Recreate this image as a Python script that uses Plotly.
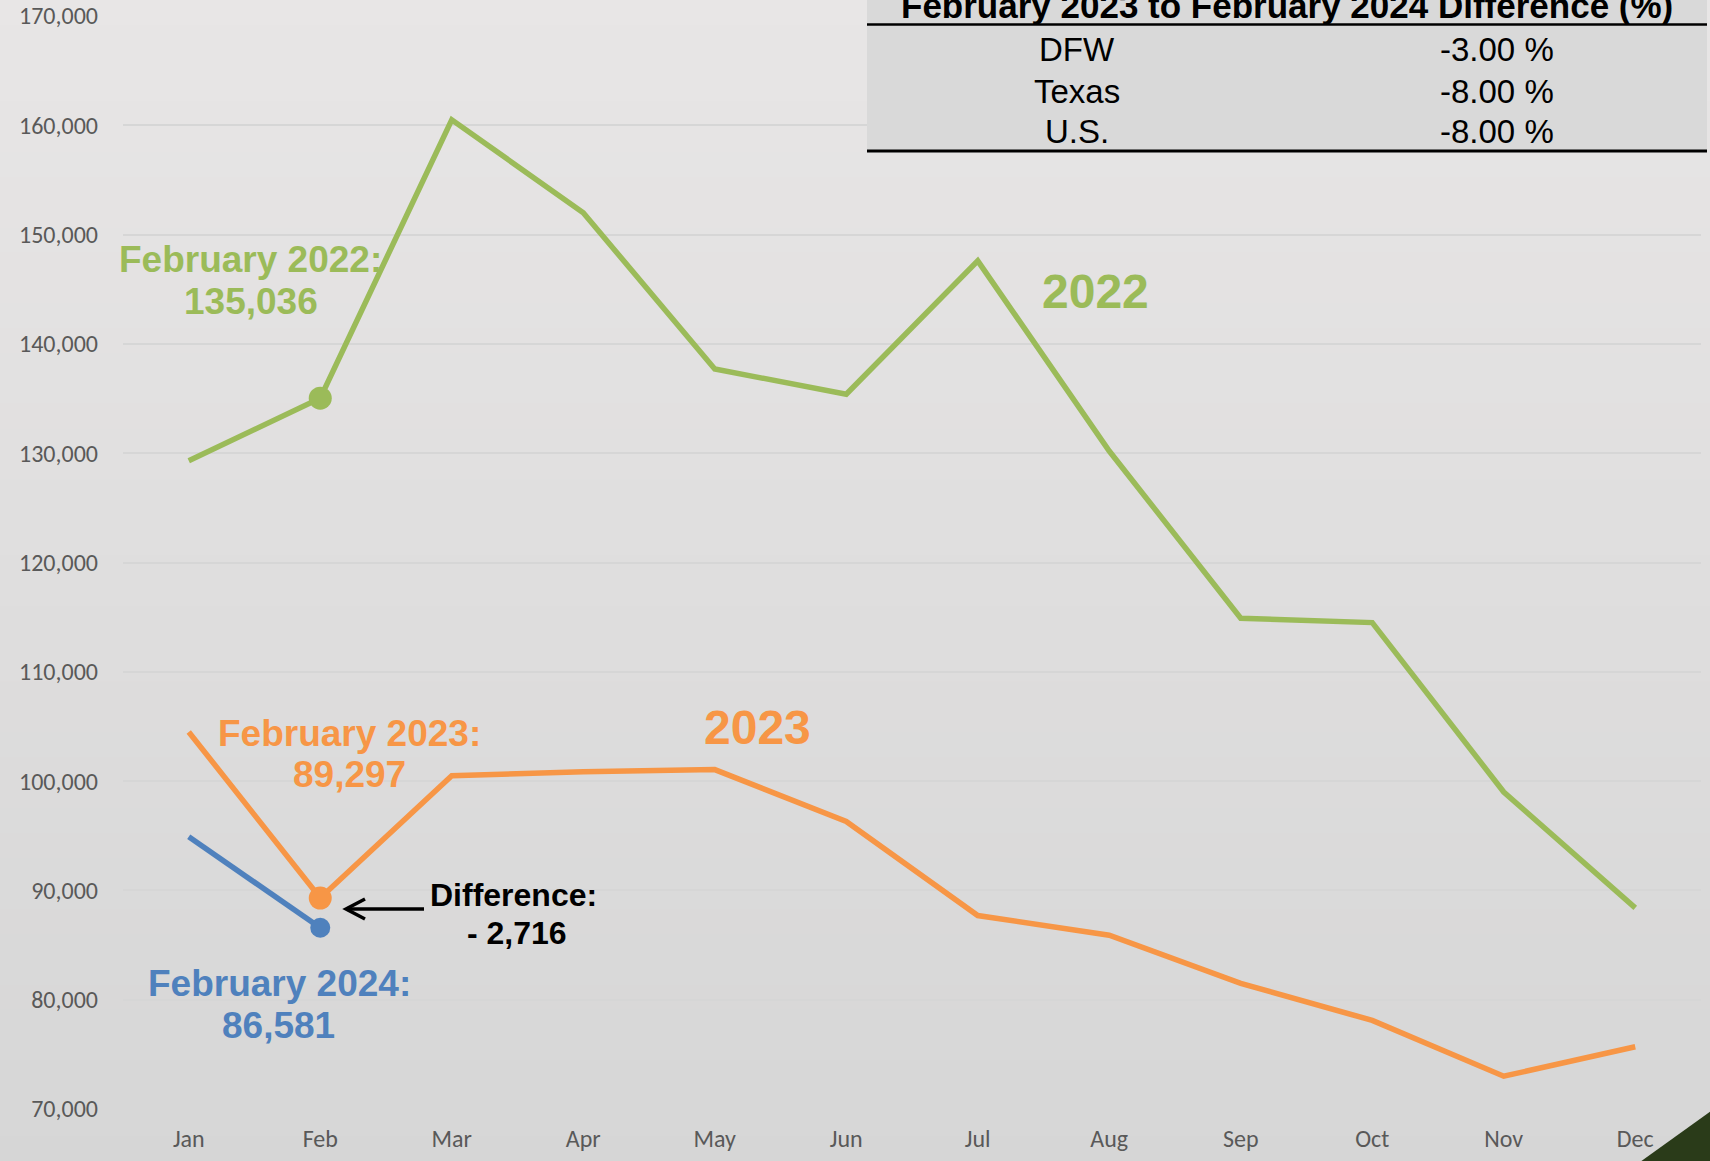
import plotly.graph_objects as go

# ---------------- data ----------------
months = ["Jan", "Feb", "Mar", "Apr", "May", "Jun", "Jul", "Aug", "Sep", "Oct", "Nov", "Dec"]
sales_2022 = [129300, 135036, 160500, 152000, 137700, 135400, 147600, 130200, 114900, 114500, 99000, 88400]
sales_2023 = [104500, 89297, 100500, 100850, 101050, 96300, 87700, 85900, 81500, 78100, 73000, 75700]
sales_2024 = [94900, 86581]
y_ticks = [70000, 80000, 90000, 100000, 110000, 120000, 130000, 140000, 150000, 160000, 170000]

table_header = "February 2023 to February 2024 Difference (%)"
table_regions = ["DFW", "Texas", "U.S."]
table_values = ["-3.00 %", "-8.00 %", "-8.00 %"]

GREEN = "#9BBB59"
ORANGE = "#F79646"
BLUE = "#4F81BD"

W, H = 1710, 1161
L, R, T, B = 123, 9, 16, 52
PW = W - L - R
PH = H - T - B


def px(x):
    return (x - L) / PW


def py(y):
    return (H - B - y) / PH


fig = go.Figure()

fig.add_trace(go.Scatter(x=months, y=sales_2022, mode="lines",
                         line=dict(color=GREEN, width=5.5), hoverinfo="skip"))
fig.add_trace(go.Scatter(x=months, y=sales_2023, mode="lines",
                         line=dict(color=ORANGE, width=5.5), hoverinfo="skip"))
fig.add_trace(go.Scatter(x=months[:len(sales_2024)], y=sales_2024, mode="lines",
                         line=dict(color=BLUE, width=5.5), hoverinfo="skip"))
# highlighted February points
fig.add_trace(go.Scatter(x=[months[1]], y=[sales_2022[1]], mode="markers",
                         marker=dict(color=GREEN, size=23), hoverinfo="skip"))
fig.add_trace(go.Scatter(x=[months[1]], y=[sales_2023[1]], mode="markers",
                         marker=dict(color=ORANGE, size=23), hoverinfo="skip"))
fig.add_trace(go.Scatter(x=[months[1]], y=[sales_2024[1]], mode="markers",
                         marker=dict(color=BLUE, size=20), hoverinfo="skip"))

shapes = []
# background vertical gradient
n = 46
top_c = (232, 230, 230)
bot_c = (214, 214, 214)
for i in range(n):
    t = (i + 0.5) / n
    c = tuple(round(top_c[k] + (bot_c[k] - top_c[k]) * t) for k in range(3))
    y0 = i * H / n
    y1 = (i + 1) * H / n + 1
    shapes.append(dict(type="rect", xref="paper", yref="paper",
                       x0=px(0), x1=px(W), y0=py(y1), y1=py(y0),
                       fillcolor="rgb(%d,%d,%d)" % c, line=dict(width=0), layer="below"))

# table background and rules
shapes.append(dict(type="rect", xref="paper", yref="paper",
                   x0=px(867), x1=px(1707), y0=py(151), y1=py(-5),
                   fillcolor="#d9d9d9", line=dict(width=0), layer="above"))
shapes.append(dict(type="line", xref="paper", yref="paper",
                   x0=px(867), x1=px(1707), y0=py(24.5), y1=py(24.5),
                   line=dict(color="#000000", width=2.5), layer="above"))
shapes.append(dict(type="line", xref="paper", yref="paper",
                   x0=px(867), x1=px(1707), y0=py(151), y1=py(151),
                   line=dict(color="#000000", width=3), layer="above"))

# arrow for the difference callout
shapes.append(dict(type="line", xref="paper", yref="paper",
                   x0=px(346), x1=px(424), y0=py(909), y1=py(909),
                   line=dict(color="#000000", width=3.5), layer="above"))
shapes.append(dict(type="path", xref="paper", yref="paper",
                   path="M %f %f L %f %f L %f %f" % (px(365), py(899), px(346), py(909), px(365), py(919)),
                   line=dict(color="#000000", width=3.5), layer="above"))

# dark green corner triangle
shapes.append(dict(type="path", xref="paper", yref="paper",
                   path="M %f %f L %f %f L %f %f Z" % (px(1640), py(1162), px(1711), py(1162), px(1711), py(1111)),
                   fillcolor="#2a3b19", line=dict(width=0), layer="above"))


def ann(text, x, y, size, color, bold=True):
    f = dict(size=size, color=color, family="Liberation Sans, Arial, sans-serif")
    if bold:
        f["weight"] = "bold"
    return dict(text=text, xref="paper", yref="paper", x=px(x), y=py(y),
                xanchor="center", yanchor="middle", showarrow=False, font=f)


annotations = [
    ann("February 2022:", 250, 259.5, 37, GREEN),
    ann("135,036", 251, 301, 37, GREEN),
    ann("2022", 1095, 291, 48, GREEN),
    ann("2023", 757, 727, 48, ORANGE),
    ann("February 2023:", 349, 733.5, 37, ORANGE),
    ann("89,297", 349, 774, 37, ORANGE),
    ann("February 2024:", 279, 983, 37, BLUE),
    ann("86,581", 278, 1025, 37, BLUE),
    ann("Difference:", 513, 895, 32, "#000000"),
    ann("- 2,716", 517, 933, 32, "#000000"),
    ann(table_header, 1287, 5, 35, "#000000"),
]
row_y = [49, 91, 131]
for reg, val, yy in zip(table_regions, table_values, row_y):
    annotations.append(ann(reg, 1077, yy, 33, "#000000", bold=False))
    annotations.append(ann(val, 1497, yy, 33, "#000000", bold=False))

TICKFONT = dict(family="Carlito, Lato, sans-serif", size=24, color="#595959")

fig.update_layout(
    width=W, height=H,
    margin=dict(l=L, r=R, t=T, b=B, pad=0, autoexpand=False),
    paper_bgcolor="rgb(232,230,230)",
    plot_bgcolor="rgba(0,0,0,0)",
    showlegend=False,
    shapes=shapes,
    annotations=annotations,
    xaxis=dict(type="category", range=[-0.5, 11.5], showgrid=False, zeroline=False,
               showline=False, ticks="", tickfont=TICKFONT, ticklabelstandoff=13,
               automargin=False, fixedrange=True),
    yaxis=dict(range=[70000, 170000], tickvals=y_ticks, tickformat=",",
               showgrid=True, gridcolor="#d6d6d6", gridwidth=1.6, zeroline=False,
               showline=False, ticks="", tickfont=TICKFONT, ticklabelstandoff=24,
               automargin=False, fixedrange=True),
)

fig.write_html(
    "out.html",
    config={"displayModeBar": False},
    post_script="document.body.style.margin='0';document.body.style.padding='0';"
                "document.documentElement.style.overflow='hidden';",
)
